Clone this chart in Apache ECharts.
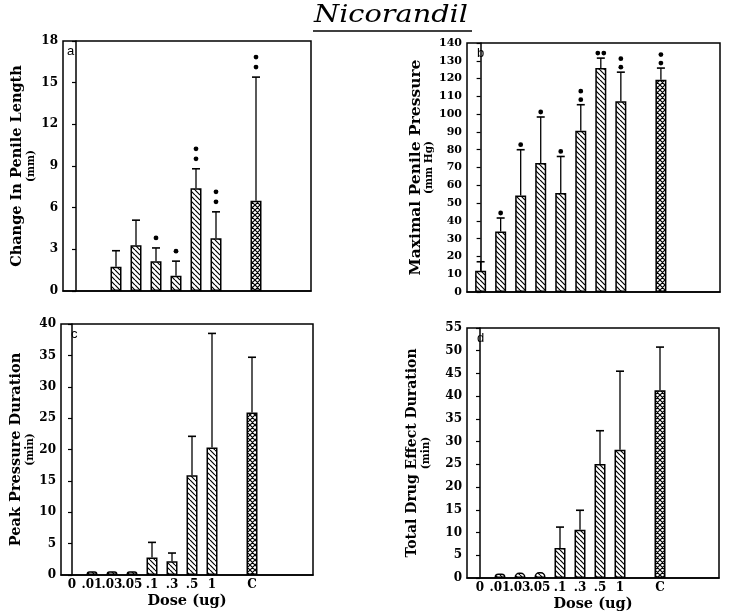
<!DOCTYPE html>
<html>
<head>
<meta charset="utf-8">
<script src="https://cdn.jsdelivr.net/npm/echarts@6/dist/echarts.min.js"></script>
<style>
  html, body { margin: 0; padding: 0; background: #fff; }
  #chart { width: 729px; height: 614px; }
</style>
</head>
<body>
<div id="chart"></div>
<script>
// dose categories (slot 8 is an empty gap before the control)
const doseLabels = ['0', '.01', '.03', '.05', '.1', '.3', '.5', '1', '', 'C'];

// a: change in penile length (mm)
const lengthMean = [null, null, 1.75, 3.3, 2.15, 1.1, 7.4, 3.8, null, 6.5];
const lengthErr = [null, null, 2.9, 5.1, 3.1, 2.15, 8.8, 5.7, null, 15.4];
const lengthStars = [0, 0, 0, 0, 1, 1, 2, 2, 0, 2];

// b: maximal penile pressure (mm Hg)
const pressureMean = [12, 34, 54.3, 72.5, 55.6, 90.7, 125.9, 107.2, null, 119.3];
const pressureErr = [17, 41.6, 80, 98.4, 76.2, 105.3, 131.5, 123.6, null, 125.9];
const pressureStars = [0, 1, 1, 1, 1, 2, 2, 2, 0, 2];
const pressureStarsSide = [0, 0, 0, 0, 0, 0, 1, 0, 0, 0];

// c: peak pressure duration (min)
const peakMean = [null, 0.6, 0.6, 0.6, 2.8, 2.2, 15.9, 20.3, null, 25.9];
const peakErr = [null, null, null, null, 5.2, 3.5, 22.1, 38.5, null, 34.7];

// d: total drug effect duration (min)
const totalMean = [null, 1.0, 1.2, 1.3, 6.6, 10.6, 25.1, 28.2, null, 41.3];
const totalErr = [null, null, null, null, 11.2, 14.9, 32.4, 45.5, null, 50.8];

const controlIndex = 9;
const font = '"DejaVu Serif", serif';

function makePattern(cross) {
    const c = document.createElement('canvas');
    c.width = c.height = 5;
    const ctx = c.getContext('2d');
    ctx.fillStyle = '#fff';
    ctx.fillRect(0, 0, 5, 5);
    ctx.strokeStyle = '#000';
    ctx.lineWidth = 1.2;
    ctx.beginPath();
    for (const o of [-5, 0, 5]) {
        ctx.moveTo(o, 0); ctx.lineTo(o + 5, 5);
        if (cross) { ctx.moveTo(o + 5, 0); ctx.lineTo(o, 5); }
    }
    ctx.stroke();
    return c;
}
const hatch = { image: makePattern(false), repeat: 'repeat' };
const crossHatch = { image: makePattern(true), repeat: 'repeat' };

const panels = [
    { grid: { left: 63, top: 41, width: 248, height: 250 }, xr: [-0.65, 11.75],
      max: 18, interval: 3, name: 'Change In Penile Length', unit: '(mm)', gap: 26, tickSize: 12, nameSize: 14.5,
      mean: lengthMean, err: lengthErr, stars: lengthStars, starFirst: 10, starStep: 10, labels: false },
    { grid: { left: 467, top: 43, width: 253, height: 249 }, xr: [-0.68, 11.95],
      max: 140, interval: 10, name: 'Maximal Penile Pressure', unit: '(mm Hg)', gap: 25, tickSize: 11, nameSize: 15.5,
      mean: pressureMean, err: pressureErr, stars: pressureStars, side: pressureStarsSide, starFirst: 5, starStep: 8.5, labels: false },
    { grid: { left: 61, top: 324, width: 252, height: 251 }, xr: [-0.55, 12.05],
      max: 40, interval: 5, name: 'Peak Pressure Duration', unit: '(min)', gap: 24, tickSize: 12, nameSize: 14.5,
      mean: peakMean, err: peakErr, labels: true },
    { grid: { left: 467, top: 328, width: 252, height: 250 }, xr: [-0.65, 11.95],
      max: 55, interval: 5, name: 'Total Drug Effect Duration', unit: '(min)', gap: 35, tickSize: 12, nameSize: 14,
      mean: totalMean, err: totalErr, labels: true }
];

const grids = [], xAxes = [], yAxes = [], series = [];

panels.forEach((p, i) => {
    grids.push(Object.assign({ show: true, borderColor: '#000', borderWidth: 1.5 }, p.grid));
    xAxes.push({
        type: 'value', gridIndex: i, min: p.xr[0], max: p.xr[1],
        splitLine: { show: false },
        axisLine: { lineStyle: { color: '#000', width: 1.5 } },
        axisTick: { show: false },
        axisLabel: {
            show: p.labels,
            customValues: doseLabels.map((d, k) => k).filter(k => doseLabels[k] !== ''),
            formatter: v => doseLabels[Math.round(v)] || '',
            color: '#000', fontFamily: font, fontWeight: 'bold', fontSize: 12, margin: 4
        },
        name: p.labels ? 'Dose (ug)' : '',
        nameLocation: 'middle', nameGap: 19,
        nameTextStyle: { color: '#000', fontFamily: font, fontWeight: 'bold', fontSize: 14.5 }
    });
    yAxes.push({
        type: 'value', gridIndex: i, min: 0, max: p.max, interval: p.interval,
        splitLine: { show: false },
        axisLine: { show: true, lineStyle: { color: '#000', width: 1.5 } },
        axisTick: { show: true, length: 4, lineStyle: { color: '#000', width: 1.2 } },
        axisLabel: { color: '#000', fontFamily: font, fontWeight: 'bold', fontSize: p.tickSize, margin: 5 },
        name: '{m|' + p.name + '}\n{s|' + p.unit + '}',
        nameLocation: 'middle', nameGap: p.gap, nameRotate: 90,
        nameTextStyle: {
            rich: {
                m: { fontFamily: font, fontWeight: 'bold', fontSize: p.nameSize, color: '#000', lineHeight: 16, align: 'center' },
                s: { fontFamily: font, fontWeight: 'bold', fontSize: 10.5, color: '#000', lineHeight: 12, align: 'center' }
            }
        }
    });

    const barData = [];
    p.mean.forEach((v, k) => {
        if (v === null) return;
        const item = { value: [k, v], itemStyle: { color: k === controlIndex ? crossHatch : hatch } };
        if (v * (250 / p.max) < 7) item.itemStyle.borderRadius = [4, 4, 0, 0];
        barData.push(item);
    });
    series.push({
        type: 'bar', xAxisIndex: i, yAxisIndex: i, barWidth: 11, data: barData,
        itemStyle: { borderColor: '#000', borderWidth: 1.5 }, silent: true, z: 2
    });

    const errData = [];
    p.err.forEach((e, k) => { if (e !== null) errData.push([k, p.mean[k], e]); });
    series.push({
        type: 'custom', xAxisIndex: i, yAxisIndex: i, data: errData, silent: true, z: 3,
        renderItem: (params, api) => {
            const lo = api.coord([api.value(0), api.value(1)]);
            const hi = api.coord([api.value(0), api.value(2)]);
            return { type: 'group', children: [
                { type: 'line', shape: { x1: lo[0], y1: lo[1], x2: hi[0], y2: hi[1] }, style: { stroke: '#000', lineWidth: 1.3 } },
                { type: 'line', shape: { x1: hi[0] - 4, y1: hi[1], x2: hi[0] + 4, y2: hi[1] }, style: { stroke: '#000', lineWidth: 1.6 } }
            ] };
        }
    });

    if (p.stars) {
        const starData = [];
        p.stars.forEach((n, k) => {
            if (n > 0) starData.push([k, p.err[k], n, p.side ? p.side[k] : 0]);
        });
        series.push({
            type: 'custom', xAxisIndex: i, yAxisIndex: i, data: starData, silent: true, z: 4,
            renderItem: (params, api) => {
                const pt = api.coord([api.value(0), api.value(1)]);
                const n = api.value(2), side = api.value(3);
                const dots = [];
                for (let s = 0; s < n; s++) {
                    const cx = side ? pt[0] + (s - (n - 1) / 2) * 6 : pt[0];
                    const cy = side ? pt[1] - p.starFirst : pt[1] - p.starFirst - s * p.starStep;
                    dots.push({ type: 'circle', shape: { cx: cx, cy: cy, r: 2.4 }, style: { fill: '#000' } });
                }
                return { type: 'group', children: dots };
            }
        });
    }
});

const letters = [['a', 67, 45], ['b', 477, 47], ['c', 71, 328], ['d', 477, 332]];

const chart = echarts.init(document.getElementById('chart'), null, { renderer: 'canvas' });
chart.setOption({
    backgroundColor: '#fff',
    animation: false,
    grid: grids,
    xAxis: xAxes,
    yAxis: yAxes,
    series: series,
    graphic: [
        { type: 'text', x: 314, y: 3, scaleX: 1.15, style: { text: 'Nicorandil', font: 'italic 25px ' + font, fill: '#000' } },
        { type: 'line', shape: { x1: 313, y1: 31, x2: 472, y2: 31 }, style: { stroke: '#000', lineWidth: 1.6 } }
    ].concat(letters.map(l => ({
        type: 'text', left: l[1], top: l[2], style: { text: l[0], font: '13px "Liberation Sans Narrow", "Liberation Sans", sans-serif', fill: '#000' }
    })))
});
</script>
</body>
</html>
